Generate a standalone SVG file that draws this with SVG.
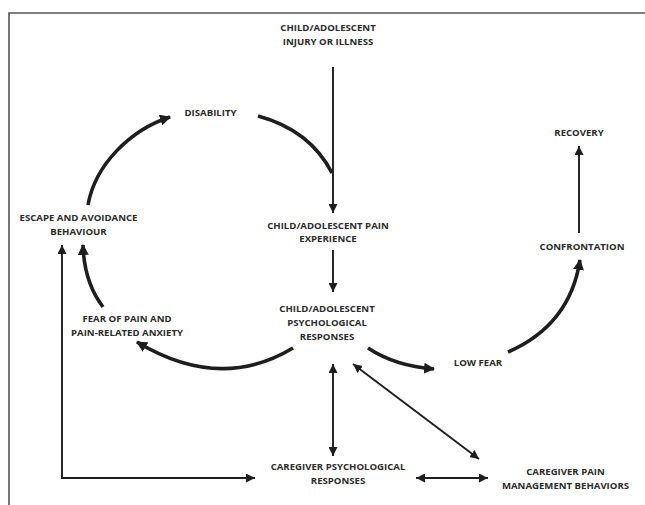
<svg xmlns="http://www.w3.org/2000/svg" width="645" height="505" viewBox="0 0 645 505">
<defs>
<style>
text{font-family:"Open Sans","Liberation Sans",sans-serif;font-weight:bold;font-size:9.6px;fill:#2b2b2b;text-anchor:middle}
.thin{fill:none;stroke:#1e1e1e;stroke-width:1.9}
.thick{fill:none;stroke:#1e1e1e;stroke-width:3.6}
.frame{fill:none;stroke:#555;stroke-width:1.6}
</style>
<marker id="ah" viewBox="0 0 10 10" refX="10" refY="5" markerWidth="9" markerHeight="9" markerUnits="userSpaceOnUse" orient="auto-start-reverse"><path d="M0,0 L10,5 L0,10 z" fill="#1e1e1e"/></marker>
<marker id="ahk" viewBox="0 0 10 10" refX="9" refY="5" markerWidth="11" markerHeight="11" markerUnits="userSpaceOnUse" orient="auto-start-reverse"><path d="M0,0 L10,5 L0,10 z" fill="#1e1e1e"/></marker>
</defs>
<rect width="645" height="505" fill="#fff"/>
<path class="frame" d="M9,505 V13 H645"/>
<g id="connectors">
<path class="thin" d="M333,67 V213" marker-end="url(#ah)"/>
<path class="thick" d="M258,116 Q310,130 332,173"/>
<path class="thin" d="M333,250 V292" marker-end="url(#ah)"/>
<path class="thick" d="M293,348 Q220,392 137,342" marker-end="url(#ahk)"/>
<path class="thick" d="M103,307 Q84,282 83,245" marker-end="url(#ahk)"/>
<path class="thick" d="M88,205 C95,165 130,130 170,117" marker-end="url(#ahk)"/>
<path class="thin" d="M62,245 V478 H255" marker-start="url(#ah)" marker-end="url(#ah)"/>
<path class="thick" d="M368,348 Q395,366 434,369" marker-end="url(#ahk)"/>
<path class="thick" d="M508,352 Q570,325 580,260" marker-end="url(#ahk)"/>
<path class="thin" d="M579,233 V146" marker-end="url(#ah)"/>
<path class="thin" d="M333,364 V456" marker-start="url(#ah)" marker-end="url(#ah)"/>
<path class="thin" d="M353,364 L479,459" marker-start="url(#ah)" marker-end="url(#ah)"/>
<path class="thin" d="M416,478 H488" marker-start="url(#ah)" marker-end="url(#ah)"/>
</g>
<g id="injury"><text x="328" y="31">CHILD/ADOLESCENT</text><text x="328" y="44.5">INJURY OR ILLNESS</text></g>
<g id="disability"><text x="210.5" y="115.5">DISABILITY</text></g>
<g id="recovery"><text x="579" y="135.5">RECOVERY</text></g>
<g id="escape"><text x="78.5" y="221">ESCAPE AND AVOIDANCE</text><text x="78.5" y="234.5">BEHAVIOUR</text></g>
<g id="pain"><text x="328" y="228.5">CHILD/ADOLESCENT PAIN</text><text x="328" y="241.5">EXPERIENCE</text></g>
<g id="confrontation"><text x="582" y="249.5">CONFRONTATION</text></g>
<g id="fear"><text x="127" y="321.5">FEAR OF PAIN AND</text><text x="127" y="336">PAIN-RELATED ANXIETY</text></g>
<g id="psych"><text x="327" y="312">CHILD/ADOLESCENT</text><text x="327" y="326">PSYCHOLOGICAL</text><text x="327" y="340">RESPONSES</text></g>
<g id="lowfear"><text x="478" y="366">LOW FEAR</text></g>
<g id="cgpsych"><text x="338" y="470">CAREGIVER PSYCHOLOGICAL</text><text x="338" y="484">RESPONSES</text></g>
<g id="cgpain"><text x="565.5" y="475">CAREGIVER PAIN</text><text x="565.5" y="489">MANAGEMENT BEHAVIORS</text></g>
</svg>
